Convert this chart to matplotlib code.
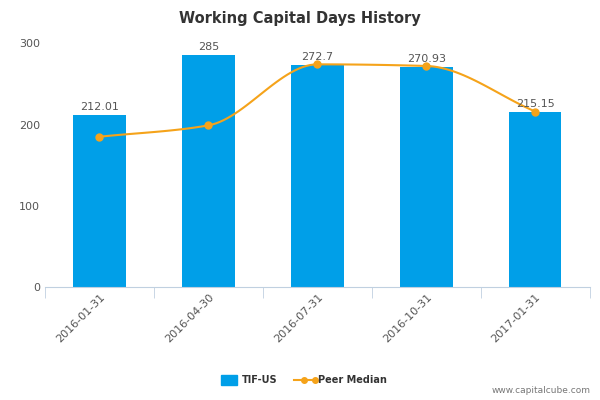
import numpy as np
import matplotlib.pyplot as plt

dates = ['2016-01-31', '2016-04-30', '2016-07-31', '2016-10-31', '2017-01-31']
tif = [212.01, 285, 272.7, 270.93, 215.15]
tif_labels = ['212.01', '285', '272.7', '270.93', '215.15']
peer = [185, 199, 274, 272, 216]

fig = plt.figure(figsize=(6, 4), dpi=100)
ax = fig.add_axes([0.075, 0.282, 0.908, 0.61])
x = np.arange(len(dates))
ax.bar(x, tif, width=0.48, color='#009fe8', zorder=2)
for xi, v, lab in zip(x, tif, tif_labels):
    ax.text(xi, v + 4, lab, ha='center', va='bottom', fontsize=8, color='#555555', zorder=4)

# monotone cubic (Fritsch-Carlson) curve through the peer points
y = np.array(peer, float)
d = np.diff(y)
m = np.zeros_like(y)
m[0], m[-1] = d[0], d[-1]
for i in range(1, len(y) - 1):
    m[i] = 0 if d[i - 1] * d[i] <= 0 else 2 / (1 / d[i - 1] + 1 / d[i])
xs, ys = [], []
for i in range(len(y) - 1):
    t = np.linspace(0, 1, 30)
    h00 = 2*t**3 - 3*t**2 + 1; h10 = t**3 - 2*t**2 + t
    h01 = -2*t**3 + 3*t**2; h11 = t**3 - t**2
    xs.extend(i + t); ys.extend(h00*y[i] + h10*m[i] + h01*y[i+1] + h11*m[i+1])
ax.plot(xs, ys, color='#f5a31a', lw=1.5, zorder=3)
ax.plot(x, peer, 'o', color='#f5a31a', ms=5, zorder=3)

ax.set_xlim(-0.5, 4.5)
ax.set_ylim(0, 300)
ax.set_yticks([0, 100, 200, 300])
ax.set_xticks(x)
ax.set_xticklabels(dates, rotation=45, ha='right', rotation_mode='anchor', fontsize=8, color='#555555')
ax.tick_params(axis='y', length=0, labelsize=8, labelcolor='#555555')
ax.tick_params(axis='x', length=0)
ax.set_xticks(np.arange(-0.5, 5, 1), minor=True)
ax.tick_params(axis='x', which='minor', length=8, color='#c0d0e0')
for s in ['top', 'right', 'left']:
    ax.spines[s].set_visible(False)
ax.spines['bottom'].set_color('#c0d0e0')

fig.text(0.5, 0.955, 'Working Capital Days History', ha='center', va='center',
         fontsize=10.5, fontweight='bold', color='#333333')
fig.patches.append(plt.Rectangle((0.368, 0.038), 0.027, 0.025, color='#009fe8', transform=fig.transFigure))
fig.text(0.403, 0.05, 'TIF-US', fontsize=7, fontweight='bold', color='#333333', va='center')
fig.lines.append(plt.Line2D([0.49, 0.525], [0.05, 0.05], color='#f5a31a', lw=1.5, marker='o', ms=4,
                            markevery=[1], transform=fig.transFigure))
fig.lines.append(plt.Line2D([0.5075], [0.05], color='#f5a31a', marker='o', ms=4, transform=fig.transFigure))
fig.text(0.53, 0.05, 'Peer Median', fontsize=7, fontweight='bold', color='#333333', va='center')
fig.text(0.985, 0.018, 'www.capitalcube.com', fontsize=6.5, color='#777777', ha='right')
fig.savefig('out.png')
